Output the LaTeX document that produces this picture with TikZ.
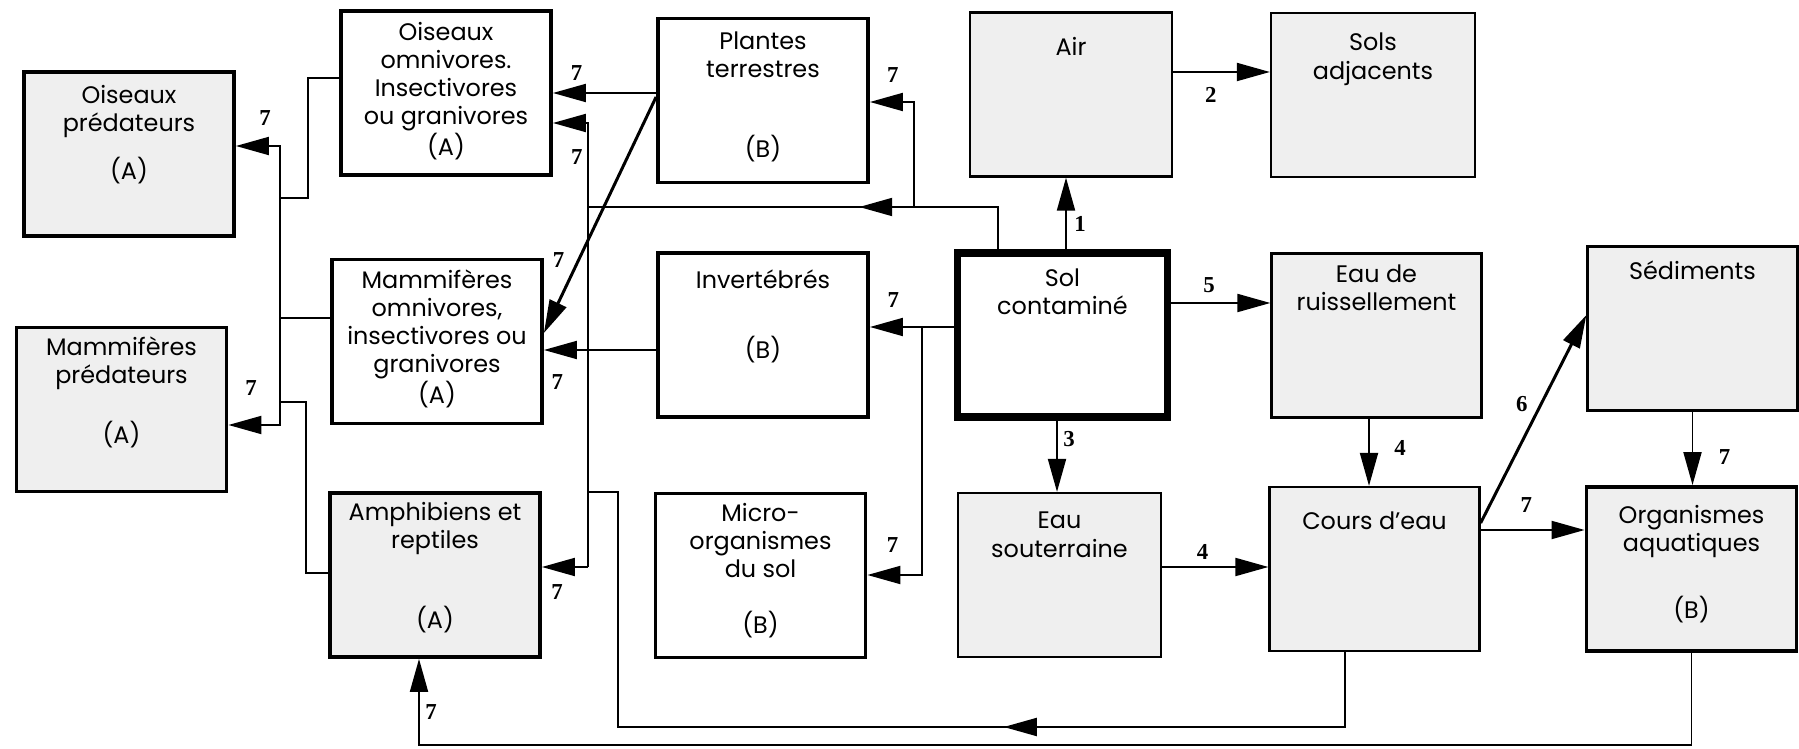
\documentclass[tikz,border=0pt]{standalone}
\usepackage{fontspec}
\setmainfont{Poppins}
\newfontfamily\numfont{Liberation Serif}
\usepackage{tikz}
\usetikzlibrary{arrows.meta,decorations.markings}
\definecolor{boxGrey}{HTML}{EFEFEF}

\tikzset{
  box/.style={rectangle, draw, inner sep=0pt, minimum width=4.2cm, minimum height=3.28cm},
  boxThick/.style={box, line width=2.2pt},
  boxThin/.style={box, line width=1.3pt, fill=boxGrey},
  boxSol/.style={box, line width=4.5pt, fill=white},
  ttl/.style={anchor=north, align=center, inner sep=0pt, yshift=-#1, font=\fontsize{13.6}{16}\selectfont},
  ttl/.default=0.3cm,
  num/.style={inner sep=0pt, font=\numfont\bfseries\fontsize{13}{14}\selectfont},
  link/.style={line width=1.1pt},
  arr/.style={link, -{Triangle[length=0.66cm,width=0.36cm]}},
  midarr/.style={link, postaction={decorate},
    decoration={markings, mark=at position #1 with {\arrow{Triangle[length=0.66cm,width=0.36cm]}}}}
}

\begin{document}
\begin{tikzpicture}[x=0.02cm, y=-0.02cm]
  \useasboundingbox (0,0) rectangle (1799,749);

  % boxes
  \node[boxThick, fill=boxGrey, label={[ttl=0.3cm]north:Oiseaux\\prédateurs\\[10pt](A)}] (oisPred) at (129,154) {};
  \node[boxThick, fill=boxGrey, label={[ttl=0.22cm]north:Mammifères\\prédateurs\\[16.5pt](A)}] (mamPred) at (121.5,409.5) {};
  \node[boxThick, fill=white, label={[ttl=0.26cm]north:Oiseaux\\omnivores.\\Insectivores\\ou granivores\\(A)}] (oisOmni) at (446,93) {};
  \node[boxThick, fill=white, label={[ttl=0.24cm]north:Mammifères\\omnivores,\\insectivores ou\\granivores\\(A)}] (mamOmni) at (437,341.5) {};
  \node[boxThick, fill=boxGrey, label={[ttl=0.22cm]north:Amphibiens et\\reptiles\\[28pt](A)}] (amphib) at (435,575) {};
  \node[boxThick, fill=white, label={[ttl=0.3cm]north:Plantes\\terrestres\\[29.6pt](B)}] (plantes) at (763,100.5) {};
  \node[boxThick, fill=white, label={[ttl=0.36cm]north:Invertébrés\\[24pt](B)}] (invert) at (763,335) {};
  \node[boxThick, fill=white, label={[ttl=0.22cm]north:Micro-\\organismes\\du sol\\[16pt](B)}] (micro) at (760.5,575.5) {};
  \node[boxThin, minimum width=4.04cm, label={[ttl=0.52cm]north:Air}] (air) at (1071,94.5) {};
  \node[boxSol, label={[ttl=0.38cm]north:Sol\\contaminé}] (sol) at (1062.5,335) {};
  \node[boxThin, minimum width=4.06cm, label={[ttl=0.4cm]north:Eau\\souterraine}] (eauSout) at (1059.5,575) {};
  \node[boxThin, minimum width=4.08cm, label={[ttl=0.42cm]north:Sols\\adjacents}] (solsAdj) at (1373,95) {};
  \node[boxThin, label={[ttl=0.24cm]north:Eau de\\ruissellement}] (eauRuis) at (1376.5,335.5) {};
  \node[boxThin, label={[ttl=0.52cm]north:Cours d’eau}] (cours) at (1374.5,569) {};
  \node[boxThin, label={[ttl=0.3cm]north:Sédiments}] (sedim) at (1692.5,328.5) {};
  \node[boxThick, fill=boxGrey, label={[ttl=0.4cm]north:Organismes\\aquatiques\\[21pt](B)}] (orgAq) at (1691.5,569) {};

  % junctions
  \coordinate (lbusN) at (280,146);
  \coordinate (lbusS) at (280,425);
  \coordinate (busN) at (588,123);
  \coordinate (busS) at (588,567);
  \coordinate (jPl) at (914,207);
  \coordinate (jMi) at (922,327);
  \coordinate (railB) at (0,745);
  \coordinate (railC) at (618,727);

  % predators
  \draw[arr] (lbusS) |- (oisPred.east |- lbusN) node[num, pos=0.67, yshift=0.56cm] (n7a) {7};
  \draw[arr] (lbusN) |- (mamPred.east |- lbusS) node[num, pos=0.78, yshift=0.74cm] (n7b) {7};
  \draw[link] (oisOmni.west |- 0,78) -| (308,198) -- (lbusN |- 0,198);
  \draw[link] (mamOmni.west |- 0,318) -- (lbusN |- 0,318);
  \draw[link] (amphib.west |- 0,573) -| (306,402) -- (lbusN |- 0,402);

  % omnivores and amphibians
  \draw[arr] (busS) |- (oisOmni.east |- busN) node[num, pos=0.66, yshift=-0.68cm] (n7c) {7};
  \draw[arr] (busS) -- (amphib.east |- busS) node[num, pos=0.67, yshift=-0.5cm] (n7d) {7};
  \draw[arr] (plantes.west |- 0,93) -- (oisOmni.east |- 0,93) node[num, pos=0.77, yshift=0.4cm] (n7e) {7};
  \draw[arr, line width=1.7pt] (plantes.west |- 0,97) -- (mamOmni.east |- 0,333) node[num, pos=0.69, xshift=-0.4cm] (n7f) {7};
  \draw[arr] (invert.west |- 0,350) -- (mamOmni.east |- 0,350) node[num, pos=0.88, yshift=-0.64cm] (n7g) {7};

  % from the soil
  \draw[midarr=0.4] (sol.north -| 998,0) |- (busN |- 0,207);
  \draw[arr] (jPl) |- (plantes.east |- 0,102) node[num, pos=0.74, yshift=0.54cm] (n7h) {7};
  \draw[arr] (sol.west |- 0,327) -- (invert.east |- 0,327) node[num, pos=0.72, yshift=0.54cm] (n7i) {7};
  \draw[arr] (jMi) |- (micro.east |- 0,575) node[num, pos=0.77, yshift=0.6cm] (n7j) {7};
  \draw[arr] (sol.north -| 1066,0) -- (air.south -| 1066,0) node[num, pos=0.35, xshift=0.28cm] (n1) {1};
  \draw[arr] (air.east |- 0,72) -- (solsAdj.west |- 0,72) node[num, pos=0.39, yshift=-0.46cm] (n2) {2};
  \draw[arr] (sol.east |- 0,303) -- (eauRuis.west |- 0,303) node[num, pos=0.38, yshift=0.36cm] (n5) {5};
  \draw[arr] (sol.south -| 1057,0) -- (eauSout.north -| 1057,0) node[num, pos=0.26, xshift=0.24cm] (n3) {3};

  % water
  \draw[arr] (eauSout.east |- 0,567) -- (cours.west |- 0,567) node[num, pos=0.38, yshift=0.3cm] (n4a) {4};
  \draw[arr] (eauRuis.south -| 1369,0) -- (cours.north -| 1369,0) node[num, pos=0.43, xshift=0.62cm] (n4b) {4};
  \draw[arr] (cours.east |- 0,530) -- (orgAq.west |- 0,530) node[num, pos=0.44, yshift=0.5cm] (n7k) {7};
  \draw[arr, line width=1.7pt] (cours.east |- 0,523) -- (sedim.west |- 0,315) node[num, pos=0.57, xshift=-0.38cm] (n6) {6};
  \draw[arr] (sedim.south) -- (sedim.south |- orgAq.north) node[num, pos=0.62, xshift=0.64cm] (n7l) {7};

  % return loops
  \draw[arr] (orgAq.south) -- (orgAq.south |- railB) -| ([xshift=-0.32cm]amphib.south) node[num, pos=0.69, xshift=0.24cm] (n7m) {7};
  \draw[midarr=0.39] (cours.south -| 1345,0) |- (railC) |- (busN |- 0,492);
\end{tikzpicture}
\end{document}
